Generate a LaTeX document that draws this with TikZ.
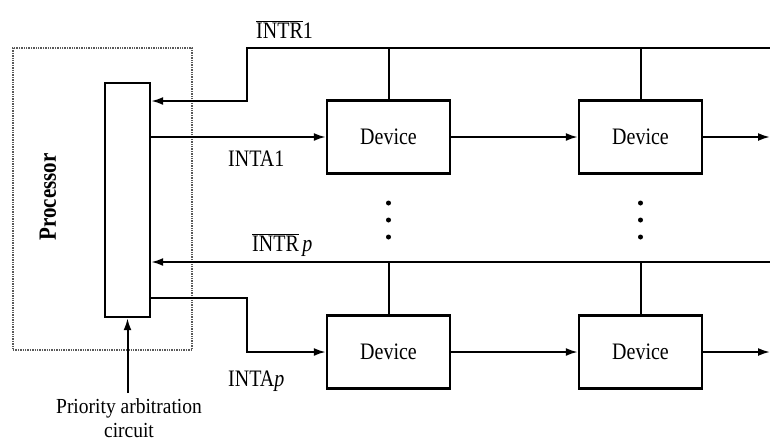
\documentclass[tikz,border=0pt]{standalone}
\usepackage{fontspec}
\setmainfont{Liberation Serif}
\usetikzlibrary{arrows.meta}
\newcommand\talltxt[1]{\scalebox{1}[1.18]{#1}}
\begin{document}
\begin{tikzpicture}[x=1pt,y=-1pt,
  wire/.style={line width=2pt},
  arr/.style={wire,-{Latex[length=12pt,width=8pt]}},
  devbox/.style={draw,line width=2.4pt,minimum width=123pt,minimum height=73pt,inner sep=0pt,font=\fontsize{20}{22}\selectfont},
  lbl/.style={font=\fontsize{20}{22}\selectfont,inner sep=0pt},
  dot/.style={circle,fill,inner sep=0pt,minimum size=5pt}]
\useasboundingbox (0,0) rectangle (770,445);
% processor
\node[draw=black!65,densely dotted,line width=1.4pt,minimum width=179pt,minimum height=302pt,inner sep=0pt] (proc) at (102.5,199) {};
\node[lbl,rotate=90,font=\bfseries\fontsize{21}{22}\selectfont] (proclbl) at (48,197) {\talltxt{Processor}};
% arbitration circuit
\node[draw,line width=2.4pt,minimum width=45pt,minimum height=234pt,inner sep=0pt] (arb) at (127.5,200) {};
% devices
\node[devbox] (d1) at (388.5,137) {\talltxt{Device}};
\node[devbox] (d2) at (640.5,137) {\talltxt{Device}};
\node[devbox] (d3) at (388.5,352) {\talltxt{Device}};
\node[devbox] (d4) at (640.5,352) {\talltxt{Device}};
% coordinates
\coordinate (r1) at (770,48);
\coordinate (k1) at (247,48);
\coordinate (t1) at (388.5,48);
\coordinate (t2) at (640.5,48);
\coordinate (rp) at (770,262);
\coordinate (tp1) at (388.5,262);
\coordinate (tp2) at (640.5,262);
\coordinate (out1) at (770,137);
\coordinate (out2) at (770,352);
\coordinate (src) at (127.5,393);
% INTR1
\draw[arr] (r1) -- (k1) |- (arb.east |- 0,101);
\draw[wire] (t1) -- (d1.north);
\draw[wire] (t2) -- (d2.north);
% INTA1
\draw[arr] (arb.east |- 0,137) -- (d1.west);
\draw[arr] (d1.east) -- (d2.west);
\draw[arr] (d2.east) -- (out1);
% INTRp
\draw[arr] (rp) -- (arb.east |- 0,262);
\draw[wire] (tp1) -- (d3.north);
\draw[wire] (tp2) -- (d4.north);
% INTAp
\draw[arr] (arb.east |- 0,298) -| (247,352) -- (d3.west);
\draw[arr] (d3.east) -- (d4.west);
\draw[arr] (d4.east) -- (out2);
% arbitration arrow
\draw[arr] (src) -- (arb.south);
% dots
\node[dot] (a1) at (388.5,203) {};
\node[dot] (a2) at (388.5,220) {};
\node[dot] (a3) at (388.5,237) {};
\node[dot] (b1) at (640.5,203) {};
\node[dot] (b2) at (640.5,220) {};
\node[dot] (b3) at (640.5,237) {};
% labels
\node[lbl,anchor=base west] (l1) at (256,38) {\talltxt{$\overline{\mbox{INTR}}$1}};
\node[lbl,anchor=base west] (l2) at (228,166) {\talltxt{INTA1}};
\node[lbl,anchor=base west] (l3) at (252,251) {\talltxt{$\overline{\mbox{INTR}}\,\mbox{\itshape p}$}};
\node[lbl,anchor=base west] (l4) at (228,386) {\talltxt{INTA\textit{p}}};
\node[lbl,align=center,font=\fontsize{19.5}{24}\selectfont,anchor=north] (l5) at (129,398) {\scalebox{1}[1.1]{Priority arbitration}\\\scalebox{1}[1.1]{circuit}};
\end{tikzpicture}
\end{document}
